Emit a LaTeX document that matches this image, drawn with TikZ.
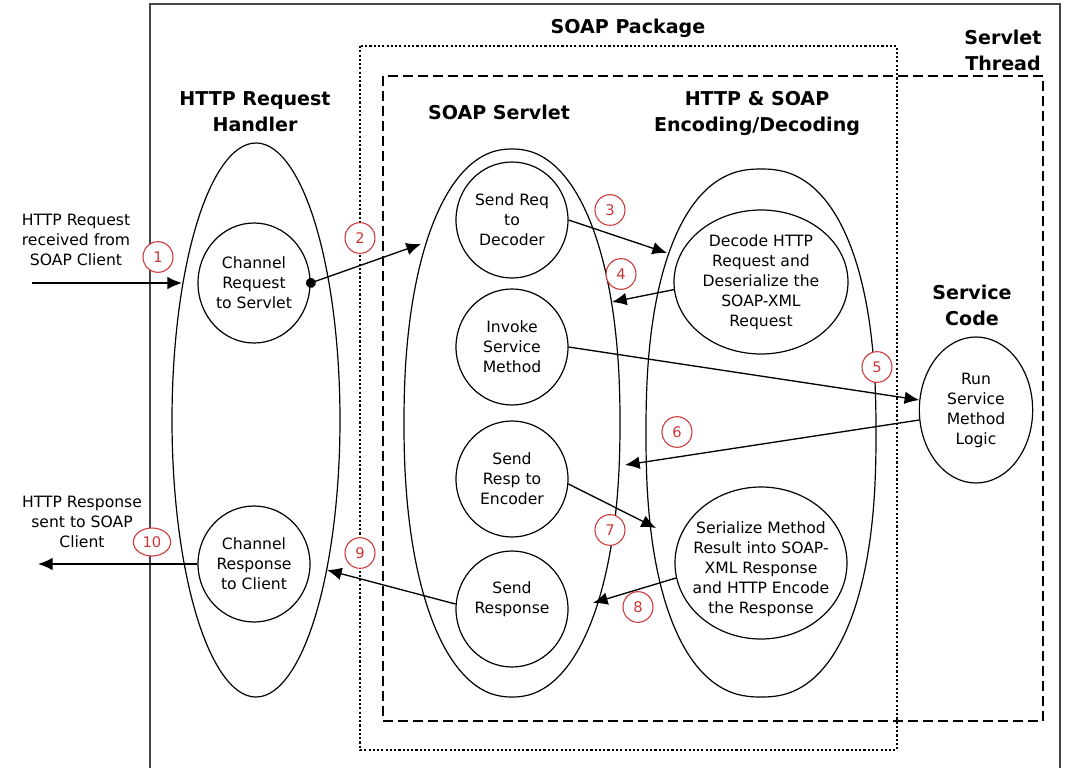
\documentclass[tikz,border=0pt]{standalone}
\usepackage{fontspec}
\setmainfont{DejaVu Sans}
\usetikzlibrary{arrows.meta,shapes.geometric}
\definecolor{numred}{RGB}{205,55,55}
\definecolor{boxgray}{RGB}{70,70,70}
\newcommand\supell[5]{\draw[container] plot[domain=0.5:357.5,samples=120,smooth cycle] ({#1+#3*sign(cos(\x))*pow(abs(cos(\x)),2/#5)},{#2+#4*sign(sin(\x))*pow(abs(sin(\x)),2/#5)});}
\tikzset{
  body/.style={font=\fontsize{11.7}{15}\selectfont, align=center},
  title/.style={font=\bfseries\fontsize{14.3}{19.5}\selectfont, align=center},
  proc/.style={draw, ellipse, line width=0.9pt, inner sep=0pt},
  num/.style={draw=numred, ellipse, fill=white, text=numred, line width=0.8pt, minimum width=22.5pt, minimum height=23pt, inner sep=0pt, font=\fontsize{11}{12}\selectfont},
  tip/.style={-{Latex[length=11pt,width=9.5pt]}},
  flow/.style={line width=1pt, tip},
  container/.style={line width=0.9pt},
}
\begin{document}
\begin{tikzpicture}[x=0.75pt,y=-0.75pt]
\useasboundingbox (0,0) rectangle (1065,768);
% frames
\draw[line width=1.5pt, boxgray] (150,768) -- (150,3.5) -- (1060,3.5) -- (1060,768);
\draw[line width=1.8pt, dash pattern=on 1.6pt off 1.6pt] (360,46) rectangle (897,750);
\draw[line width=1.1pt, dash pattern=on 7.5pt off 3.75pt] (383,76) rectangle (1043,721);
% titles
\node[title] (tpkg) at (628,28) {SOAP Package};
\node[title] (tthread) at (1003,50) {Servlet\\Thread};
\node[title] (thandler) at (255,112) {HTTP Request\\Handler};
\node[title] (tservlet) at (499,112) {SOAP Servlet};
\node[title] (tcodec) at (757,113) {HTTP \& SOAP\\Encoding/Decoding};
\node[title] (tservice) at (972,305) {Service\\Code};
% containers
\supell{256}{420}{84}{277}{2}
\supell{512}{423}{108}{274}{2.2}
\supell{761}{433}{115}{264}{2.35}
% process circles
\node[proc, minimum width=84pt, minimum height=90pt, label={[body]center:{Channel\\Request\\to Servlet}}] (chreq) at (254,283) {};
\node[proc, minimum width=84pt, minimum height=87pt, label={[body]center:{Channel\\Response\\to Client}}] (chresp) at (254,564) {};
\node[proc, minimum width=84pt, minimum height=87pt, label={[body]center:{Send Req\\to\\Decoder}}] (sendreq) at (512,220) {};
\node[proc, minimum width=84pt, minimum height=87pt, label={[body]center:{Invoke\\Service\\Method}}] (invoke) at (512,347) {};
\node[proc, minimum width=84pt, minimum height=87pt, label={[body]center:{Send\\Resp to\\Encoder}}] (sendresp) at (512,479) {};
\node[proc, minimum width=84pt, minimum height=87pt, label={[body,yshift=7pt]center:{Send\\Response}}] (sendresponse) at (512,609) {};
\node[proc, minimum width=130.5pt, minimum height=108pt, label={[body]center:{Decode HTTP\\Request and\\Deserialize the\\SOAP-XML\\Request}}] (decode) at (761,282) {};
\node[proc, minimum width=129pt, minimum height=114pt, label={[body,yshift=-5pt]center:{Serialize Method\\Result into SOAP-\\XML Response\\and HTTP Encode\\the Response}}] (serialize) at (761,563) {};
\node[proc, minimum width=85pt, minimum height=109.5pt, label={[body]center:{Run\\Service\\Method\\Logic}}] (run) at (976,410) {};
% side labels
\node[body] (reqlbl) at (76,240) {HTTP Request\\received from\\SOAP Client};
\node[body] (resplbl) at (82,522) {HTTP Response\\sent to SOAP\\Client};
% free ends
\coordinate (a1s) at (32,283);
\coordinate (a1e) at (182,283);
\coordinate (a2e) at (421,244);
\coordinate (a3e) at (667,253);
\coordinate (a4e) at (612,302);
\coordinate (a6e) at (625,465);
\coordinate (a7e) at (656,528);
\coordinate (a8e) at (593,603);
\coordinate (a9e) at (327,570);
\coordinate (a10e) at (38,564);
% connectors
\draw[flow] (a1s) -- (a1e);
\draw[line width=1pt, {Circle[length=7.5pt]}-{Latex[length=11pt,width=9.5pt]}, shorten <=-3.5pt] (chreq.east) -- (a2e);
\draw[flow] (sendreq.east) -- (a3e);
\draw[flow] (decode.185) -- (a4e);
\draw[flow] (invoke.east) -- (run.170);
\draw[flow] (run.190) -- (a6e);
\draw[flow] (sendresp.355) -- (a7e);
\draw[flow] (serialize.190) -- (a8e);
\draw[flow] (sendresponse.175) -- (a9e);
\draw[flow] (chresp.west) -- (a10e);
% step numbers
\node[num] (n1) at (158,257) {1};
\node[num] (n2) at (360,238) {2};
\node[num] (n3) at (610,210) {3};
\node[num] (n4) at (621,274) {4};
\node[num] (n5) at (877,367) {5};
\node[num] (n6) at (677,432) {6};
\node[num] (n7) at (610,530) {7};
\node[num] (n8) at (638,607) {8};
\node[num] (n9) at (360,553) {9};
\node[num, minimum width=28pt, minimum height=21pt] (n10) at (152,542) {10};
\end{tikzpicture}
\end{document}
